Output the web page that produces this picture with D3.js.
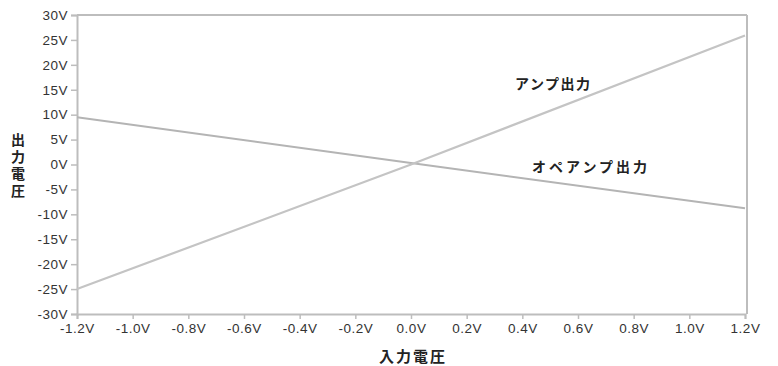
<!DOCTYPE html>
<html>
<head>
<meta charset="utf-8">
<script src="https://cdn.jsdelivr.net/npm/d3@7"></script>
<style>
  html, body { margin: 0; padding: 0; background: #fff; }
  svg { display: block; }
  .tick text { font-family: "Liberation Sans", Arial, sans-serif; font-size: 13.5px; letter-spacing: 0.5px; fill: #333; }
</style>
</head>
<body>
<svg id="chart" width="778" height="366"></svg>
<script>
// Input voltage sweep (V) and the two transfer curves (V)
const inputVolts   = [-1.2, 0, 1.2];
const ampOutput    = [-25, 0, 25.9];
const opAmpOutput  = [9.5, 0.3, -8.8];

const xTicks = [-1.2, -1.0, -0.8, -0.6, -0.4, -0.2, 0.0, 0.2, 0.4, 0.6, 0.8, 1.0, 1.2];
const yTicks = [-30, -25, -20, -15, -10, -5, 0, 5, 10, 15, 20, 25, 30];

const seriesNames = ["アンプ出力", "オペアンプ出力"];
const xTitle = "入力電圧";
const yTitle = "出力電圧";

const svg = d3.select("#chart");
const margin = { left: 77, right: 33, top: 15, bottom: 52 };
const W = 778, H = 366;

const x = d3.scaleLinear().domain([-1.2, 1.2]).range([margin.left, W - margin.right]);
const y = d3.scaleLinear().domain([-30, 30]).range([H - margin.bottom, margin.top]);

const axisColor = "#bdbdbd";
const font = '"Noto Sans CJK JP", "Liberation Sans", sans-serif';

// Frame: top and right borders
svg.append("line")
  .attr("x1", x(-1.2)).attr("x2", x(1.2) + 2)
  .attr("y1", y(30)).attr("y2", y(30))
  .attr("stroke", axisColor).attr("stroke-width", 2);
svg.append("line")
  .attr("x1", x(1.2) + 2).attr("x2", x(1.2) + 2)
  .attr("y1", y(30)).attr("y2", y(-30))
  .attr("stroke", axisColor).attr("stroke-width", 2);

// Axes (plain hyphen-minus in the labels)
const fmtX = d => d3.format(".1f")(d).replace("\u2212", "-") + "V";
const fmtY = d => String(d) + "V";
const xAxis = d3.axisBottom(x).tickValues(xTicks).tickSize(5).tickFormat(fmtX);
const yAxis = d3.axisLeft(y).tickValues(yTicks).tickSize(6).tickFormat(fmtY);

const gx = svg.append("g").attr("transform", `translate(0,${y(-30)})`).call(xAxis);
const gy = svg.append("g").attr("transform", `translate(${x(-1.2)},0)`).call(yAxis);
[gx, gy].forEach(g => {
  g.select(".domain").attr("stroke", axisColor).attr("stroke-width", 2);
  g.selectAll(".tick line").attr("stroke", axisColor).attr("stroke-width", 1.5);
});
gx.selectAll(".tick text").attr("dy", "0.85em");
gy.selectAll(".tick text").attr("x", -9);

// Curves
const line = d3.line().x(d => x(d[0])).y(d => y(d[1]));
const ampPts = inputVolts.map((v, i) => [v, ampOutput[i]]);
const opPts = inputVolts.map((v, i) => [v, opAmpOutput[i]]);

svg.append("path").datum(opPts).attr("d", line)
  .attr("fill", "none").attr("stroke", "#b4b4b4").attr("stroke-width", 2);
svg.append("path").datum(ampPts).attr("d", line)
  .attr("fill", "none").attr("stroke", "#c4c4c4").attr("stroke-width", 2.2);

// Series labels
svg.append("text").attr("x", 515).attr("y", 89)
  .attr("font-family", font).attr("font-size", 14).attr("font-weight", "bold")
  .attr("letter-spacing", 1.5)
  .attr("fill", "#222").text(seriesNames[0]);
svg.append("text").attr("x", 532).attr("y", 172)
  .attr("font-family", font).attr("font-size", 14).attr("font-weight", "bold")
  .attr("letter-spacing", 3)
  .attr("fill", "#222").text(seriesNames[1]);

// Axis titles
svg.append("text").attr("x", 413).attr("y", 362)
  .attr("text-anchor", "middle")
  .attr("font-family", font).attr("font-size", 15).attr("font-weight", "bold")
  .attr("letter-spacing", 2)
  .attr("fill", "#222").text(xTitle);

svg.append("text")
  .attr("x", 18).attr("y", 133)
  .attr("font-family", font).attr("font-size", 14).attr("font-weight", "bold")
  .attr("letter-spacing", 3)
  .style("writing-mode", "vertical-rl")
  .style("text-orientation", "upright")
  .attr("fill", "#222").text(yTitle);
</script>
</body>
</html>
